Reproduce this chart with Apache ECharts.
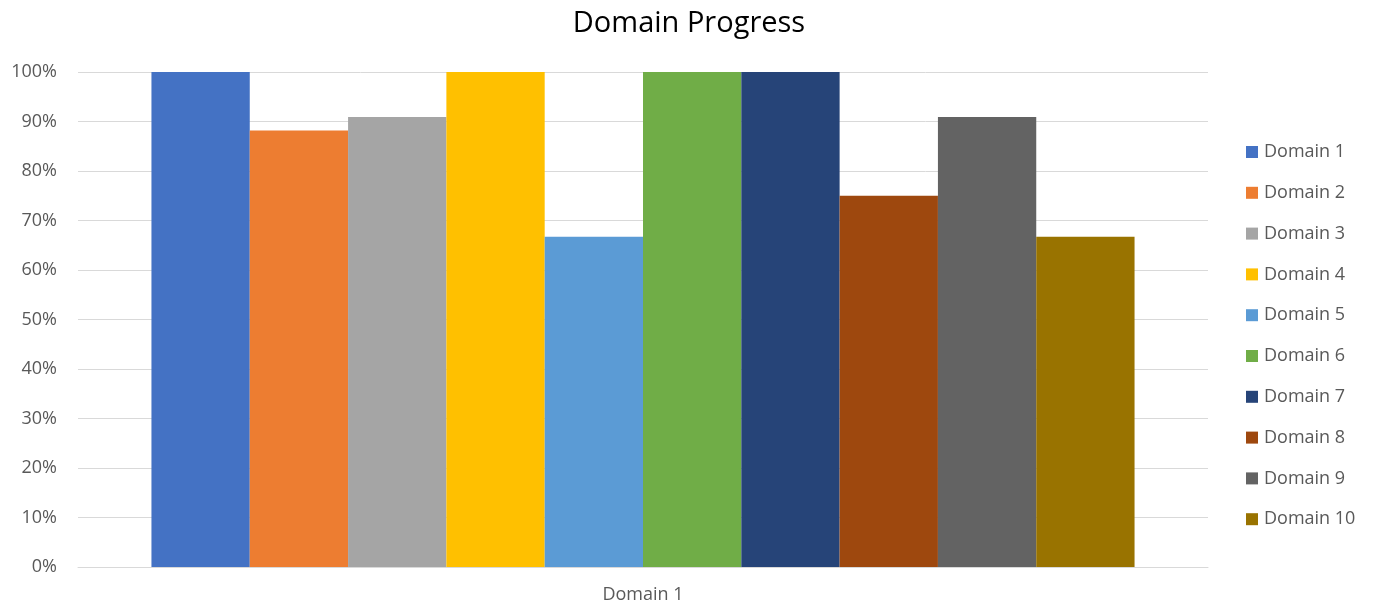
<!DOCTYPE html>
<html><head><meta charset="utf-8">
<script src="https://cdn.jsdelivr.net/npm/echarts@6/dist/echarts.min.js"></script>
<style>html,body{margin:0;padding:0;background:#fff}#c{width:1374px;height:605px}</style>
</head><body><div id="c"></div>
<script>
const categories = ['Domain 1'];
const seriesNames = ['Domain 1','Domain 2','Domain 3','Domain 4','Domain 5','Domain 6','Domain 7','Domain 8','Domain 9','Domain 10'];
const seriesValues = [1.0, 0.882, 0.909, 1.0, 0.667, 1.0, 1.0, 0.75, 0.909, 0.667];
const colors = ['#4472C4','#ED7D31','#A5A5A5','#FFC000','#5B9BD5','#70AD47','#264478','#9E480E','#636363','#997300'];

const chart = echarts.init(document.getElementById('c'), null, {renderer:'canvas'});
const font = "'Open Sans', 'Noto Sans', sans-serif";
chart.setOption({
  animation:false,
  color: colors,
  title:{text:'Domain Progress', left:684, top:4, textAlign:'center',
    textStyle:{fontFamily:font, fontSize:29, fontWeight:'normal', color:'#000'}},
  grid:{left:78, right:166, top:72, bottom:38},
  legend:{orient:'vertical', left:1241, top:138, itemWidth:12, itemHeight:12, itemGap:22.8,
    icon:'rect', textStyle:{fontFamily:font, fontSize:18, color:'#595959', padding:[0,0,0,1]},
    data: seriesNames},
  xAxis:{type:'category', data:categories,
    axisLine:{lineStyle:{color:'#D9D9D9', width:1}}, axisTick:{show:false},
    axisLabel:{fontFamily:font, fontSize:18, color:'#595959', margin:19}},
  yAxis:{type:'value', min:0, max:1, interval:0.1,
    axisLabel:{fontFamily:font, fontSize:18, color:'#595959', margin:21,
      formatter:v=>Math.round(v*100)+'%'},
    axisLine:{show:false}, axisTick:{show:false},
    splitLine:{lineStyle:{color:'#D9D9D9', width:1}}},
  series: seriesNames.map((n,i)=>({name:n, type:'bar', data:[seriesValues[i]],
    barGap:'0%', barCategoryGap:'13%'}))
});
</script></body></html>
